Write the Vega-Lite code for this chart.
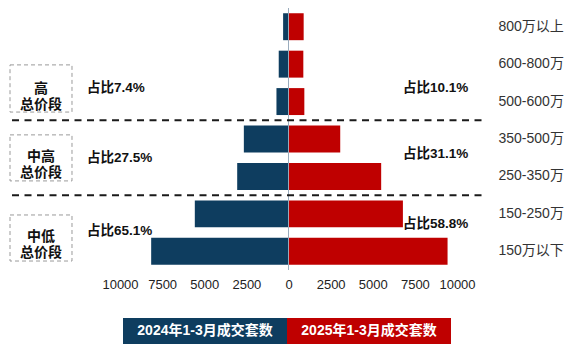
{
  "$schema": "https://vega.github.io/schema/vega-lite/v6.json",
  "width": 577,
  "height": 262,
  "autosize": "none",
  "padding": {"top": 8, "left": 0, "right": 0, "bottom": 85},
  "background": "white",
  "config": {"view": {"stroke": null}, "font": "Liberation Sans, Noto Sans CJK SC"},
  "datasets": {
    "sales": [
      {"range": "800万以上", "year": "2024", "count": 320},
      {"range": "800万以上", "year": "2025", "count": 900},
      {"range": "600-800万", "year": "2024", "count": 580},
      {"range": "600-800万", "year": "2025", "count": 880},
      {"range": "500-600万", "year": "2024", "count": 715},
      {"range": "500-600万", "year": "2025", "count": 940},
      {"range": "350-500万", "year": "2024", "count": 2650},
      {"range": "350-500万", "year": "2025", "count": 3070},
      {"range": "250-350万", "year": "2024", "count": 3045},
      {"range": "250-350万", "year": "2025", "count": 5500},
      {"range": "150-250万", "year": "2024", "count": 5560},
      {"range": "150-250万", "year": "2025", "count": 6790},
      {"range": "150万以下", "year": "2024", "count": 8150},
      {"range": "150万以下", "year": "2025", "count": 9440}
    ],
    "groups": [
      {"label": "高\n总价段", "x": -16528, "x2": -12849, "top": 1.52, "bottom": 2.78, "mid": 2.17, "tx": -14688},
      {"label": "中高\n总价段", "x": -16528, "x2": -12849, "top": 3.39, "bottom": 4.62, "mid": 3.99, "tx": -14688},
      {"label": "中低\n总价段", "x": -16528, "x2": -12849, "top": 5.53, "bottom": 6.76, "mid": 6.13, "tx": -14688}
    ],
    "shares": [
      {"text": "占比7.4%", "x": -11958, "u": 2.14},
      {"text": "占比27.5%", "x": -11958, "u": 4.02},
      {"text": "占比65.1%", "x": -11958, "u": 5.96},
      {"text": "占比10.1%", "x": 6795, "u": 2.14},
      {"text": "占比31.1%", "x": 6795, "u": 3.91},
      {"text": "占比58.8%", "x": 6795, "u": 5.78}
    ],
    "legend": [
      {"year": "2024", "label": "2024年1-3月成交套数", "x": -9822, "x2": -89, "tx": -4955, "top": 8.28, "bottom": 8.98, "mid": 8.63},
      {"year": "2025", "label": "2025年1-3月成交套数", "x": -89, "x2": 9644, "tx": 4777, "top": 8.28, "bottom": 8.98, "mid": 8.63}
    ]
  },
  "layer": [
    {
      "layer": [
        {
          "data": {"name": "sales"},
          "transform": [{"calculate": "datum.year === '2024' ? -datum.count : datum.count", "as": "signed"}],
          "mark": {"type": "bar", "height": {"band": 0.72}},
          "encoding": {
            "y": {
              "field": "range", "type": "nominal",
              "scale": {"domain": ["800万以上", "600-800万", "500-600万", "350-500万", "250-350万", "150-250万", "150万以下"], "paddingInner": 0, "paddingOuter": 0},
              "axis": {"orient": "right", "offset": -79, "labelAlign": "left", "labelPadding": 0, "ticks": false, "domain": false, "grid": false, "title": null, "labelFontSize": 14, "labelColor": "#333333", "labelFont": "Liberation Sans, Noto Sans CJK SC"}
            },
            "x": {
              "field": "signed", "type": "quantitative", "stack": null,
              "scale": {"domain": [-17122, 17122], "nice": false, "zero": false},
              "axis": {"values": [-10000, -7500, -5000, -2500, 0, 2500, 5000, 7500, 10000], "labelExpr": "format(abs(datum.value), 'd')", "domain": false, "ticks": false, "grid": false, "title": null, "labelPadding": 8, "labelFontSize": 13, "labelColor": "#222222", "labelFont": "Liberation Sans"}
            },
            "color": {"field": "year", "type": "nominal", "scale": {"domain": ["2024", "2025"], "range": ["#0e3d5f", "#bf0000"]}, "legend": null}
          }
        },
        {
          "data": {"values": [{}]},
          "mark": {"type": "rule", "color": "#9aabbc", "strokeWidth": 1},
          "encoding": {"x": {"datum": 0, "type": "quantitative", "title": null}}
        },
        {
          "data": {"values": [{"range": "350-500万"}, {"range": "150-250万"}]},
          "mark": {"type": "rule", "strokeDash": [7, 5.5], "strokeWidth": 2, "color": "#1a1a1a"},
          "encoding": {
            "y": {"field": "range", "type": "nominal", "bandPosition": 0},
            "x": {"datum": -16409, "type": "quantitative", "title": null},
            "x2": {"datum": 11480}
          }
        }
      ]
    },
    {
      "layer": [
        {
          "data": {"name": "groups"},
          "mark": {"type": "rect", "fill": "transparent", "stroke": "#9a9a9a", "strokeWidth": 1, "strokeDash": [4, 3]},
          "encoding": {
            "x": {"field": "x", "type": "quantitative", "title": null},
            "x2": {"field": "x2"},
            "y": {"field": "top", "type": "quantitative", "scale": {"domain": [0, 7], "reverse": true, "nice": false, "zero": false}, "axis": null},
            "y2": {"field": "bottom"}
          }
        },
        {
          "data": {"name": "groups"},
          "mark": {"type": "text", "align": "center", "baseline": "middle", "lineBreak": "\n", "lineHeight": 16, "fontSize": 14, "fontWeight": "bold", "color": "#111111", "font": "Liberation Sans, Noto Sans CJK SC"},
          "encoding": {
            "x": {"field": "tx", "type": "quantitative", "title": null},
            "y": {"field": "mid", "type": "quantitative", "axis": null},
            "text": {"field": "label"}
          }
        },
        {
          "data": {"name": "shares"},
          "mark": {"type": "text", "align": "left", "baseline": "middle", "fontSize": 13.5, "fontWeight": "bold", "color": "#111111", "font": "Liberation Sans, Noto Sans CJK SC"},
          "encoding": {
            "x": {"field": "x", "type": "quantitative", "title": null},
            "y": {"field": "u", "type": "quantitative", "axis": null},
            "text": {"field": "text"}
          }
        },
        {
          "data": {"name": "legend"},
          "mark": {"type": "rect"},
          "encoding": {
            "x": {"field": "x", "type": "quantitative", "title": null},
            "x2": {"field": "x2"},
            "y": {"field": "top", "type": "quantitative", "axis": null},
            "y2": {"field": "bottom"},
            "color": {"field": "year", "type": "nominal", "legend": null}
          }
        },
        {
          "data": {"name": "legend"},
          "mark": {"type": "text", "align": "center", "baseline": "middle", "fontSize": 14, "fontWeight": "bold", "color": "white", "font": "Liberation Sans, Noto Sans CJK SC"},
          "encoding": {
            "x": {"field": "tx", "type": "quantitative", "title": null},
            "y": {"field": "mid", "type": "quantitative", "axis": null},
            "text": {"field": "label"}
          }
        }
      ]
    }
  ],
  "resolve": {"scale": {"y": "independent"}}
}
